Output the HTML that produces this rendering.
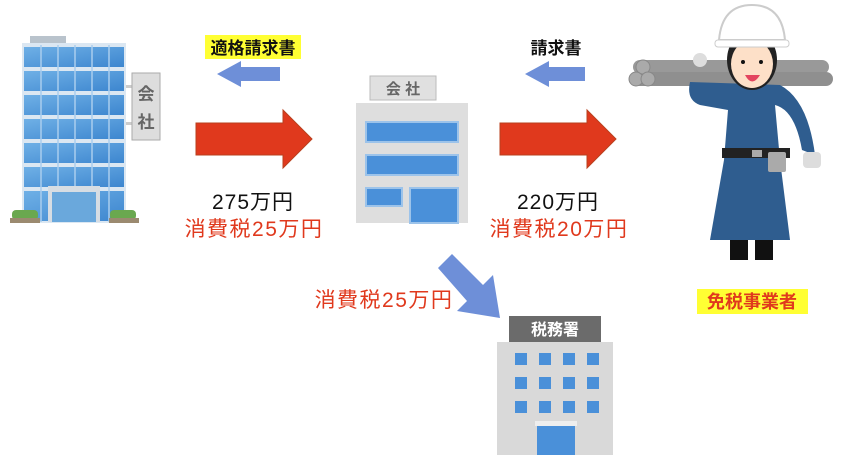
<!DOCTYPE html>
<html><head><meta charset="utf-8"><style>
body{margin:0;background:#fff;}
svg{display:block}
text{font-family:"Liberation Sans","Noto Sans CJK JP",sans-serif}
</style></head><body>
<svg width="850" height="466" viewBox="0 0 850 466" xmlns="http://www.w3.org/2000/svg">
<defs>
<linearGradient id="bl" x1="0" y1="0" x2="1" y2="1"><stop offset="0" stop-color="#6fb0e6"/><stop offset="1" stop-color="#3d86cf"/></linearGradient>
</defs>
<!-- left building -->
<rect x="30" y="36" width="36" height="8" fill="#b9c3cc"/>
<rect x="22" y="43" width="104" height="180" fill="#dbe7f2"/>
<g fill="url(#bl)">
<rect x="24" y="47" width="100" height="20"/><rect x="24" y="71" width="100" height="20"/><rect x="24" y="95" width="100" height="20"/><rect x="24" y="119" width="100" height="20"/><rect x="24" y="143" width="100" height="20"/><rect x="24" y="167" width="100" height="20"/><rect x="24" y="191" width="100" height="30"/>
</g>
<g stroke="#a9cdee" stroke-width="1.5"><line x1="41" y1="45" x2="41" y2="222"/><line x1="58" y1="45" x2="58" y2="222"/><line x1="75" y1="45" x2="75" y2="222"/><line x1="92" y1="45" x2="92" y2="222"/><line x1="109" y1="45" x2="109" y2="222"/></g>
<rect x="48" y="186" width="52" height="36" fill="#d7dde3"/><rect x="52" y="192" width="44" height="30" fill="#6aa8dc"/>
<rect x="12" y="210" width="26" height="10" fill="#6aa84f" rx="4"/><rect x="110" y="210" width="26" height="10" fill="#6aa84f" rx="4"/>
<rect x="10" y="218" width="30" height="5" fill="#9b8a70"/><rect x="109" y="218" width="30" height="5" fill="#9b8a70"/>
<rect x="126" y="85" width="8" height="3" fill="#ccc"/><rect x="126" y="122" width="8" height="3" fill="#ccc"/>
<rect x="132" y="73" width="28" height="67" fill="#ddd" stroke="#aaa"/>
<text x="146" y="100" font-size="17" font-weight="bold" fill="#666" text-anchor="middle">会</text>
<text x="146" y="128" font-size="17" font-weight="bold" fill="#666" text-anchor="middle">社</text>
<!-- middle building -->
<rect x="370" y="76" width="66" height="24" fill="#e0e0e0" stroke="#bbb"/>
<text x="403" y="94" font-size="15" font-weight="bold" fill="#666" text-anchor="middle">会 社</text>
<rect x="356" y="103" width="112" height="120" fill="#dedede"/>
<rect x="366" y="122" width="92" height="20" fill="#4a90d9" stroke="#9cc3ea" stroke-width="2"/>
<rect x="366" y="155" width="92" height="20" fill="#4a90d9" stroke="#9cc3ea" stroke-width="2"/>
<rect x="366" y="188" width="36" height="18" fill="#4a90d9" stroke="#9cc3ea" stroke-width="2"/>
<rect x="410" y="188" width="48" height="35" fill="#4a90d9" stroke="#9cc3ea" stroke-width="2"/>
<!-- red arrows -->
<polygon points="196,123 283,123 283,110 312,139 283,168 283,155 196,155" fill="#e0391d" stroke="#b9401e"/>
<polygon points="500,123 587,123 587,110 616,139 587,168 587,155 500,155" fill="#e0391d" stroke="#b9401e"/>
<!-- blue arrows -->
<polygon points="280,67 241,67 241,61 217,74 241,87 241,81 280,81" fill="#6e8fd8"/>
<polygon points="585,67 549,67 549,61 525,74 549,87 549,81 585,81" fill="#6e8fd8"/>
<!-- labels -->
<rect x="205" y="35" width="96" height="24" fill="#ffff33"/>
<text x="253" y="54" font-size="17" font-weight="bold" fill="#111" text-anchor="middle">適格請求書</text>
<text x="556" y="54" font-size="17" font-weight="bold" fill="#111" text-anchor="middle">請求書</text>
<text x="253" y="209" font-size="21" letter-spacing="1" fill="#111" text-anchor="middle">275万円</text>
<text x="254" y="236" font-size="21" letter-spacing="1.5" fill="#e0391d" text-anchor="middle">消費税25万円</text>
<text x="558" y="209" font-size="21" letter-spacing="1" fill="#111" text-anchor="middle">220万円</text>
<text x="559" y="236" font-size="21" letter-spacing="1.5" fill="#e0391d" text-anchor="middle">消費税20万円</text>
<text x="384" y="307" font-size="21" letter-spacing="1.5" fill="#e0391d" text-anchor="middle">消費税25万円</text>
<!-- diagonal arrow -->
<polygon points="438,268 452,254 483,285 493,275 500,318 457,311 467,301" fill="#6e8fd8"/>
<!-- tax office -->
<rect x="509" y="316" width="92" height="26" fill="#6b6b6b"/>
<text x="555" y="335" font-size="16" font-weight="bold" fill="#fff" text-anchor="middle">税務署</text>
<rect x="497" y="342" width="116" height="113" fill="#d9d9d9"/>
<g fill="#4a90d9">
<rect x="515" y="353" width="12" height="12"/><rect x="539" y="353" width="12" height="12"/><rect x="563" y="353" width="12" height="12"/><rect x="587" y="353" width="12" height="12"/>
<rect x="515" y="377" width="12" height="12"/><rect x="539" y="377" width="12" height="12"/><rect x="563" y="377" width="12" height="12"/><rect x="587" y="377" width="12" height="12"/>
<rect x="515" y="401" width="12" height="12"/><rect x="539" y="401" width="12" height="12"/><rect x="563" y="401" width="12" height="12"/><rect x="587" y="401" width="12" height="12"/>
<rect x="537" y="425" width="38" height="30"/>
</g>
<rect x="535" y="421" width="42" height="5" fill="#eee"/>
<!-- worker -->
<g>
<rect x="633" y="60" width="196" height="14" rx="7" fill="#999"/>
<rect x="633" y="72" width="200" height="14" rx="7" fill="#8f8f8f"/>
<circle cx="643" cy="67" r="7" fill="#aaa" stroke="#888"/><circle cx="636" cy="79" r="7" fill="#aaa" stroke="#888"/><circle cx="648" cy="79" r="7" fill="#aaa" stroke="#888"/>
<path d="M690 82 Q686 100 700 105 L728 110 L724 160 L710 240 L790 240 L780 160 L775 105 Q795 110 802 150 L815 155 Q808 100 780 85 Z" fill="#2f5d8f"/>
<rect x="722" y="148" width="68" height="10" fill="#222"/>
<rect x="752" y="150" width="10" height="7" fill="#aaa"/>
<rect x="768" y="152" width="18" height="20" fill="#aaa" rx="2"/>
<rect x="803" y="152" width="18" height="16" rx="4" fill="#ddd"/>
<rect x="730" y="240" width="18" height="20" fill="#111"/><rect x="755" y="240" width="18" height="20" fill="#111"/>
<ellipse cx="752" cy="60" rx="25" ry="30" fill="#222"/>
<ellipse cx="752" cy="64" rx="21" ry="24" fill="#fde0c8"/>
<path d="M719 40 Q722 5 752 5 Q782 5 785 40 Z" fill="#fff" stroke="#ccc" stroke-width="2"/>
<rect x="715" y="40" width="74" height="7" rx="3" fill="#fff" stroke="#ccc"/>
<circle cx="743" cy="62" r="2" fill="#111"/><circle cx="761" cy="62" r="2" fill="#111"/>
<path d="M745 75 Q752 88 760 75 Z" fill="#e3455f"/>
<circle cx="700" cy="60" r="7" fill="#ddd"/>
</g>
<rect x="697" y="289" width="111" height="25" fill="#ffff33"/>
<text x="752" y="308" font-size="18" font-weight="bold" fill="#e0391d" text-anchor="middle">免税事業者</text>
</svg>
</body></html>
